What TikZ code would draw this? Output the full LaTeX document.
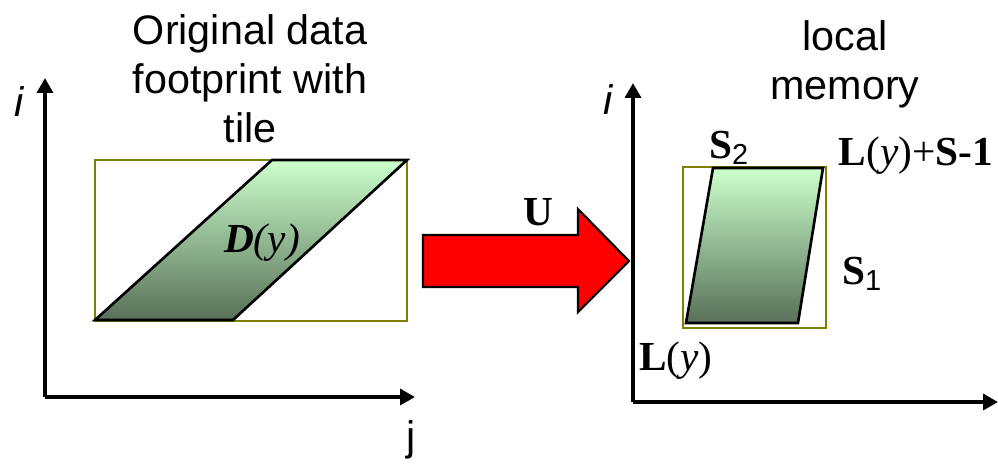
\documentclass[tikz,border=0pt]{standalone}
\usepackage{fontspec}
\setmainfont{Liberation Serif}
\setsansfont{Liberation Sans}
\usepackage{tikz}
\usetikzlibrary{arrows.meta,positioning}
\definecolor{tileedge}{HTML}{808000}
\definecolor{tiletop}{HTML}{CCFFCC}
\definecolor{tilebot}{HTML}{587058}

\begin{document}
\begin{tikzpicture}[x=0.02cm, y=-0.02cm,
  axis/.style={line width=2.5pt, -{Triangle[length=8.5pt,width=9pt]}},
  tilebox/.style={draw=tileedge, line width=1.6pt},
  footprint/.style={draw=black, line width=1.5pt,
    top color=tiletop, bottom color=tilebot},
  caption/.style={font=\sffamily\fontsize{23.5}{28}\selectfont,
    align=center, inner sep=0pt},
  lbl/.style={font=\fontsize{23.5}{28}\selectfont, inner sep=0pt},
  mapping/.style={draw=black, line width=1.2pt, fill=red}
]
\useasboundingbox (0,0) rectangle (998,464);

% Left: original data space
\coordinate (O1) at (45,397);
\coordinate (i1) at (45,78);
\coordinate (j1) at (415,397);
\draw[axis] (O1) -- (i1);
\draw[axis] (O1) -- (j1);
\node[caption] (ilft) at (19,102) {\itshape i};
\node[caption] (jlft) at (411,440) {j};

\node[caption] (orig) at (250,79) {Original data\\footprint with\\tile};

\draw[tilebox] (95,160) rectangle (407,321);
\draw[footprint] (95,320) -- (233,320) -- (407,160) -- (272,160) -- cycle;
\node[lbl] (dom) at (262,243) {\textbf{\textit{D}}\textit{(y)}};

% Mapping arrow
\draw[mapping] (423,235) -- (578,235) -- (578,209) -- (629,261)
  -- (578,312) -- (578,287) -- (423,287) -- cycle;
\node[lbl] (map) at (538,212) {\textbf{U}};

% Right: local memory
\coordinate (O2) at (633,402);
\coordinate (i2) at (633,83);
\coordinate (j2) at (998,402);
\draw[axis] (O2) -- (i2);
\draw[axis] (O2) -- (j2);
\node[caption] (irgt) at (608,100) {\itshape i};

\node[caption] (mem) at (845,64) {local\\memory};

\draw[tilebox] (683,167) rectangle (826,328);
\draw[footprint] (686,323) -- (798,323) -- (823,168) -- (713,168) -- cycle;

\node[lbl] (s2) at (729,148) {\textbf{S}\textsubscript{\sffamily 2}};
\node[lbl] (upper) at (916,156) {\textbf{L}(\textit{y})+\textbf{S-1}};
\node[lbl] (s1) at (862,274) {\textbf{S}\textsubscript{\sffamily 1}};
\node[lbl] (lower) at (676,361) {\textbf{L}(\textit{y})};

\end{tikzpicture}
\end{document}
